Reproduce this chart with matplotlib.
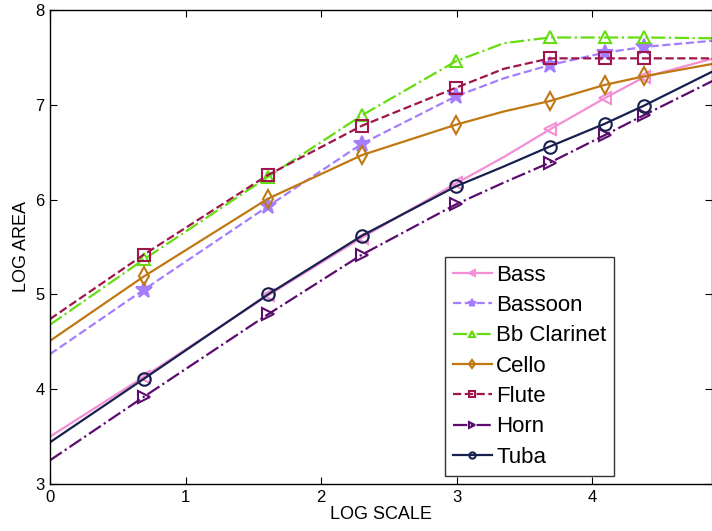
import matplotlib.pyplot as plt

plt.rcParams['font.family'] = ['Liberation Sans', 'DejaVu Sans']

# x positions of the fitted curves (log of scale); the markers sit at the inner points
x_line = [0.0, 0.693, 1.609, 2.303, 2.996, 3.35, 3.689, 4.094, 4.382, 5.0]
mark_idx = [1, 2, 3, 4, 6, 7, 8]

bass = [3.50, 4.13, 4.99, 5.60, 6.17, 6.45, 6.74, 7.07, 7.29, 7.53]
bassoon = [4.37, 5.05, 5.93, 6.59, 7.09, 7.28, 7.42, 7.55, 7.61, 7.69]
clarinet = [4.68, 5.37, 6.24, 6.89, 7.46, 7.65, 7.71, 7.71, 7.71, 7.70]
cello = [4.51, 5.19, 6.01, 6.47, 6.79, 6.93, 7.04, 7.21, 7.30, 7.46]
flute = [4.74, 5.42, 6.26, 6.78, 7.18, 7.38, 7.49, 7.49, 7.49, 7.49]
horn = [3.25, 3.92, 4.79, 5.42, 5.95, 6.18, 6.39, 6.68, 6.89, 7.33]
tuba = [3.44, 4.11, 5.00, 5.62, 6.14, 6.35, 6.56, 6.80, 6.99, 7.43]

labels = ['Bass', 'Bassoon', 'Bb Clarinet', 'Cello', 'Flute', 'Horn', 'Tuba']
series = [bass, bassoon, clarinet, cello, flute, horn, tuba]
colors = ['#F28FD6', '#A47EFF', '#66DD11', '#C07812', '#A0154A', '#5C0C6E', '#17204E']
markers = ['<', '*', '^', 'd', 's', '>', 'o']
styles = ['-', '--', '-.', '-', '--', '-.', '-']

fig = plt.figure(figsize=(7.12, 5.31), dpi=100)
ax = fig.add_axes([50 / 712, 1 - 484 / 531, 662 / 712, 474 / 531])

for y, lab, c, m, ls in zip(series, labels, colors, markers, styles):
    ms = 12 if m == '*' else 9
    mfc = c if m == '*' else 'none'
    ax.plot(x_line, y, color=c, linestyle=ls, linewidth=1.6,
            marker=m, markevery=mark_idx, markersize=ms,
            markerfacecolor=mfc, markeredgecolor=c, markeredgewidth=1.5,
            label=lab)

ax.set_xticks([0, 1, 2, 3, 4, 5])
ax.set_yticks([3, 4, 5, 6, 7, 8])
# the figure is cut at the right edge, a bit before x = 5
ax.set_xlim(0, 662 / 135.5)
ax.set_ylim(3, 8)
ax.tick_params(direction='in', length=5, width=0.8, top=True, right=True,
               labelsize=12, pad=4)
for s in ax.spines.values():
    s.set_linewidth(1.0)

ax.set_xlabel('LOG SCALE', fontsize=13, labelpad=1)
ax.set_ylabel('LOG AREA', fontsize=13, labelpad=4)

leg = ax.legend(loc='upper left', bbox_to_anchor=(395 / 662, 1 - 247 / 474),
                borderaxespad=0, fontsize=16, frameon=True, fancybox=False,
                edgecolor='black', handlelength=1.75, handletextpad=0.2,
                labelspacing=0.42, markerscale=0.5, borderpad=0.35)
leg.get_frame().set_linewidth(1.0)

fig.savefig('out.png', dpi=100)
